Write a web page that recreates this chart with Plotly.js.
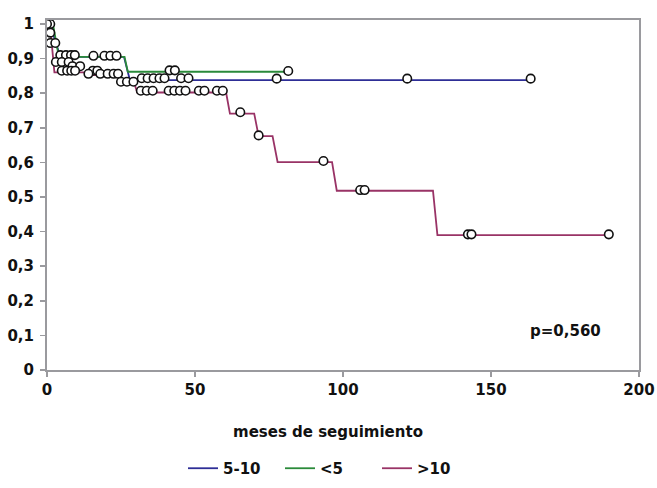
<!DOCTYPE html>
<html>
<head>
<meta charset="utf-8">
<script src="https://cdn.plot.ly/plotly-3.0.1.min.js"></script>
<style>html,body{margin:0;padding:0;background:#fff;}#chart{width:657px;height:488px;}</style>
</head>
<body>
<div id="chart"></div>
<script>
// Series names
const seriesNames = ["5-10", "<5", ">10"];
const seriesColors = ["#2e2e96", "#2a8a3a", "#993366"];

// Step curves (corner points) — time in months, survival
const blueT = [0, 1, 4.5, 26, 28, 163.4];
const blueS = [1, 1, 0.905, 0.905, 0.838, 0.838];

const greenT = [0, 2, 4, 26.2, 27.3, 81.5];
const greenS = [1, 1, 0.905, 0.905, 0.862, 0.862];

const maroonT = [0, 1, 2.5, 13, 13.5, 24.5, 25.5, 29.5, 30.5, 60.5, 61.8, 70, 71.5, 76.2, 77.9, 96.3, 97.9, 130.4, 131.9, 189.8];
const maroonS = [1, 1, 0.86, 0.86, 0.852, 0.852, 0.828, 0.828, 0.802, 0.802, 0.741, 0.741, 0.676, 0.676, 0.601, 0.601, 0.518, 0.518, 0.39, 0.39];

// Censored observations
const blueCensT = [4.5, 6.4, 8.1, 9.4, 15.7, 19.4, 21.4, 23.5, 32, 34, 36, 38, 39.7, 45.3, 47.8, 77.6, 121.7, 163.4];
const blueCensS = [0.91, 0.91, 0.91, 0.91, 0.908, 0.908, 0.908, 0.908, 0.843, 0.843, 0.843, 0.843, 0.843, 0.843, 0.843, 0.842, 0.842, 0.842];

const greenCensT = [1.1, 41.4, 43.2, 81.5];
const greenCensS = [1.0, 0.866, 0.866, 0.864];

const maroonCensT = [0, 1.1, 1.1, 2.8, 3, 5, 7.3, 8.6, 11.2, 5, 6.8, 8.2, 9.5, 15.5, 17, 14, 18, 20.5, 22.5, 24, 25, 27, 29.2,
  31.7, 33.7, 35.7, 41.1, 43, 44.9, 46.8, 51.3, 53.2, 57.4, 59.4, 65.3, 71.5, 93.4, 105.8, 107.3, 142.2, 143.4, 189.8];
const maroonCensS = [1.0, 0.975, 0.945, 0.945, 0.89, 0.89, 0.89, 0.878, 0.878, 0.865, 0.865, 0.865, 0.865, 0.865, 0.865, 0.856, 0.856, 0.856, 0.856, 0.856, 0.833, 0.833, 0.833,
  0.807, 0.807, 0.807, 0.807, 0.807, 0.807, 0.807, 0.807, 0.807, 0.807, 0.807, 0.745, 0.678, 0.604, 0.52, 0.52, 0.392, 0.392, 0.392];

// Axis ticks
const xTicks = [0, 50, 100, 150, 200];
const yTicks = [0, 0.1, 0.2, 0.3, 0.4, 0.5, 0.6, 0.7, 0.8, 0.9, 1];

const pText = "p=0,560";
const xTitle = "meses de seguimiento";

const font = {family: "DejaVu Sans, Liberation Sans, Arial, sans-serif", size: 15, color: "#111", weight: "bold"};
const axisGray = "#9a9a9e";

const lineSets = [[blueT, blueS], [greenT, greenS], [maroonT, maroonS]];
const censSets = [[blueCensT, blueCensS], [greenCensT, greenCensS], [maroonCensT, maroonCensS]];

const traces = [];
lineSets.forEach((d, i) => {
  traces.push({x: d[0], y: d[1], type: "scatter", mode: "lines", name: seriesNames[i],
    line: {color: seriesColors[i], width: 1.8}, hoverinfo: "skip"});
});
censSets.forEach((d, i) => {
  traces.push({x: d[0], y: d[1], type: "scatter", mode: "markers", showlegend: false,
    marker: {symbol: "circle", size: 8.5, color: "#fff", line: {color: "#111", width: 1.6}}, hoverinfo: "skip"});
});

const xr = [0, 200], yr = [0, 1.0115];
const layout = {
  width: 657, height: 488,
  margin: {l: 47, r: 18, t: 20, b: 118, autoexpand: false},
  paper_bgcolor: "#fff", plot_bgcolor: "#fff",
  separators: ",.",
  showlegend: true,
  font: font,
  xaxis: {range: xr, tickvals: xTicks, showgrid: false, zeroline: false, showline: true, mirror: true,
    linecolor: axisGray, linewidth: 2, ticks: "outside", ticklen: 5, tickwidth: 1.5, tickcolor: axisGray,
    tickfont: font, ticklabelstandoff: 0, fixedrange: true, automargin: false},
  yaxis: {range: yr, tickvals: yTicks, showgrid: false, zeroline: false, showline: true, mirror: true,
    linecolor: axisGray, linewidth: 2, ticks: "outside", ticklen: 5, tickwidth: 1.5, tickcolor: axisGray,
    tickfont: font, ticklabelstandoff: 3, fixedrange: true, automargin: false},
  xaxis2: {range: xr, tickvals: xTicks, overlaying: "x", anchor: "y", side: "bottom", showgrid: false, zeroline: false,
    showline: false, ticks: "inside", ticklen: 5, tickwidth: 1.5, tickcolor: axisGray, showticklabels: false},
  yaxis2: {range: yr, tickvals: yTicks, overlaying: "y", anchor: "x", side: "left", showgrid: false, zeroline: false,
    showline: false, ticks: "inside", ticklen: 5, tickwidth: 1.5, tickcolor: axisGray, showticklabels: false},
  legend: {orientation: "h", xref: "container", yref: "container", x: 0.5, xanchor: "center", y: 0.04, yanchor: "middle",
    font: font, bgcolor: "rgba(0,0,0,0)", entrywidth: 52, entrywidthmode: "pixels"},
  annotations: [
    {text: pText, x: 175, y: 0.112, xref: "x", yref: "y", showarrow: false, font: font},
    {text: xTitle, x: 0.474, y: -0.177, xref: "paper", yref: "paper", showarrow: false, font: font,
     xanchor: "center", yanchor: "middle"}
  ]
};

Plotly.newPlot("chart", traces, layout, {staticPlot: true, displayModeBar: false});
</script>
</body>
</html>
